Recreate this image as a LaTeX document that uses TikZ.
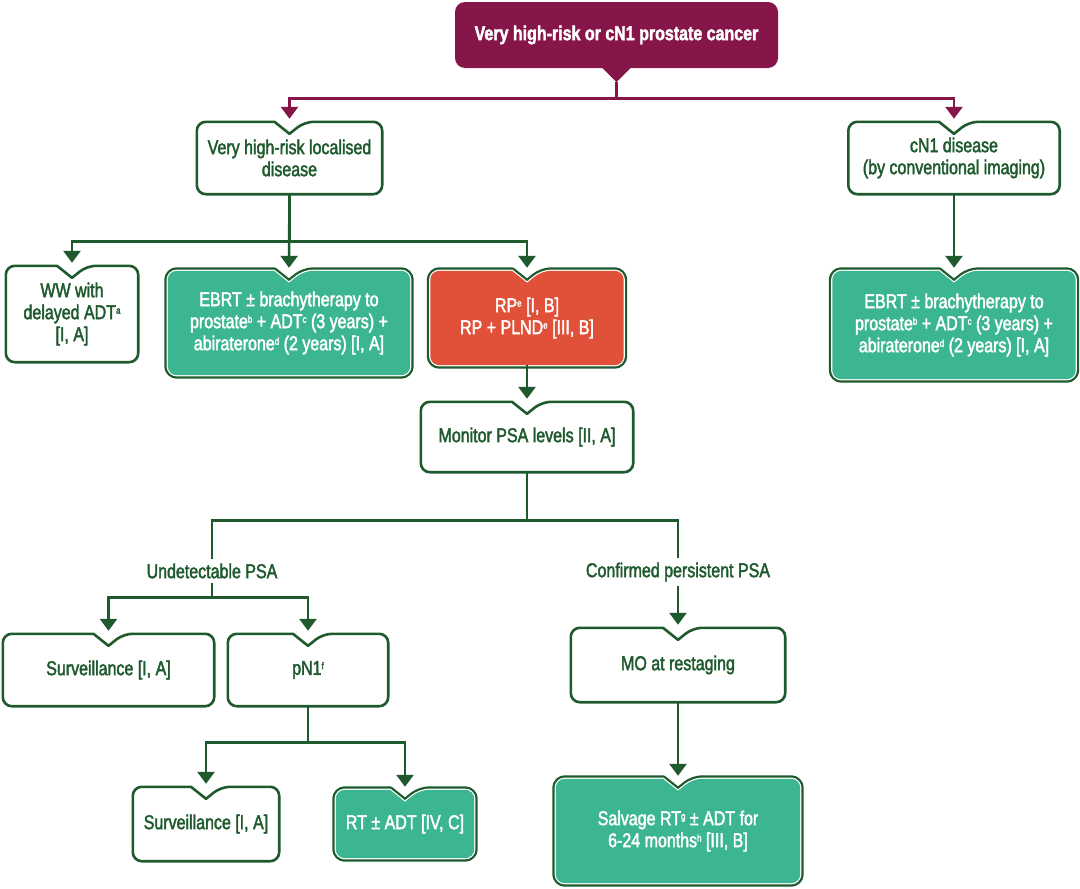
\documentclass[tikz,border=0pt]{standalone}
\usepackage{fontspec}
\setmainfont{Liberation Sans}[FakeStretch=0.8,FakeBold=2]
\usetikzlibrary{arrows.meta,backgrounds}
\definecolor{wine}{RGB}{134,22,74}
\definecolor{leaf}{RGB}{30,90,45}
\definecolor{mint}{RGB}{60,182,144}
\definecolor{brick}{RGB}{225,80,56}

% small footnote letters
\newcommand{\fnote}[1]{\raisebox{5.5pt}{\fontsize{10}{10}\selectfont #1}}

% outline of a box with a notch at the top
\newcommand{\boxpath}[2]{%
  \begin{pgfonlayer}{background}
    \path[#2, rounded corners=9pt, line join=round] ([xshift=-15pt]#1.north) -- (#1.north west) -- (#1.south west) -- (#1.south east) -- (#1.north east) -- ([xshift=15pt]#1.north) [sharp corners] -- ([yshift=-12pt]#1.north) -- cycle;
  \end{pgfonlayer}}
\newcommand{\plainbox}[1]{\boxpath{#1}{draw=leaf, line width=2.6pt, fill=white}}
\newcommand{\solidbox}[2]{%
  \boxpath{#1}{draw=leaf, line width=7pt}%
  \boxpath{#1}{draw=white, line width=2.4pt}%
  \boxpath{#1}{fill=#2}}

\begin{document}
\begin{tikzpicture}[x=1pt,y=-1pt,
    box/.style={inner sep=0pt, align=center, text=leaf, font=\fontsize{20}{22}\selectfont},
    fillbox/.style={box, text=white},
    garrow/.style={-{Triangle[width=17pt,length=12pt]}, draw=leaf, line width=2.6pt, shorten >=3pt},
    marrow/.style={garrow, draw=wine},
    gline/.style={draw=leaf, line width=2.6pt}]
  \path[use as bounding box] (0,0) rectangle (1080,889);

  % Start
  \node[box, text=white, fill=wine, rounded corners=10pt, minimum width=323pt, minimum height=66pt, font=\fontsize{20}{22}\selectfont\bfseries] (top) at (616.5,35) {Very high-risk or cN1 prostate cancer};
  \fill[wine] ([xshift=-15pt,yshift=1pt]top.south) -- ([xshift=15pt,yshift=1pt]top.south) -- ([yshift=-14pt]top.south) -- cycle;
  \coordinate (tab) at ([yshift=-14pt]top.south);

  % Second row
  \node[box, minimum width=185pt, minimum height=72pt] (vhr) at (289.5,158) {Very high-risk localised\\disease};
  \node[box, minimum width=211pt, minimum height=72pt] (cn1) at (954,158) {cN1 disease\\(by conventional imaging)};

  % Treatments
  \node[box, minimum width=132pt, minimum height=96pt] (ww) at (72,314) {WW with\\delayed ADT\fnote{a}\\{}[I, A]};
  \node[fillbox, minimum width=242pt, minimum height=104pt] (ebrtL) at (289,323) {EBRT ± brachytherapy to\\prostate\fnote{b} + ADT\fnote{c} (3 years) +\\abiraterone\fnote{d} (2 years) [I, A]};
  \node[fillbox, minimum width=193pt, minimum height=94pt] (rp) at (527,318) {RP\fnote{e} [I, B]\\RP + PLND\fnote{e} [III, B]};
  \node[fillbox, minimum width=243pt, minimum height=108pt] (ebrtR) at (954,325) {EBRT ± brachytherapy to\\prostate\fnote{b} + ADT\fnote{c} (3 years) +\\abiraterone\fnote{d} (2 years) [I, A]};

  % Follow-up
  \node[box, minimum width=212pt, minimum height=70pt] (mon) at (527,437) {Monitor PSA levels [II, A]};
  \node[box, inner sep=4pt] (undet) at (212,571) {Undetectable PSA};
  \node[box, inner sep=4pt] (persist) at (678,572) {Confirmed persistent PSA};

  % Lower boxes
  \node[box, minimum width=211pt, minimum height=72pt] (surv1) at (108.5,670) {Surveillance [I, A]};
  \node[box, minimum width=160pt, minimum height=72pt] (pn1) at (308,670) {pN1\fnote{f}};
  \node[box, minimum width=146pt, minimum height=74pt] (surv2) at (206,824) {Surveillance [I, A]};
  \node[fillbox, minimum width=138pt, minimum height=68pt] (rt) at (405,824) {RT ± ADT [IV, C]};
  \node[box, minimum width=214pt, minimum height=74pt] (mo) at (678,665) {MO at restaging};
  \node[fillbox, minimum width=244pt, minimum height=104pt] (salv) at (678,831) {Salvage RT\fnote{g} ± ADT for\\6-24 months\fnote{h} [III, B]};

  % Box outlines
  \plainbox{vhr}
  \plainbox{cn1}
  \plainbox{ww}
  \solidbox{ebrtL}{mint}
  \solidbox{rp}{brick}
  \solidbox{ebrtR}{mint}
  \plainbox{mon}
  \plainbox{surv1}
  \plainbox{pn1}
  \plainbox{surv2}
  \solidbox{rt}{mint}
  \plainbox{mo}
  \solidbox{salv}{mint}

  % Arrows
  \draw[marrow] (tab) -- ++(0,16) -| (vhr.north);
  \draw[marrow] (tab) -- ++(0,16) -| (cn1.north);
  \draw[garrow] (vhr.south) -- ++(0,47) -| (ww.north);
  \draw[garrow] (vhr.south) -- (ebrtL.north);
  \draw[garrow] (vhr.south) -- ++(0,47) -| (rp.north);
  \draw[garrow] (cn1.south) -- (ebrtR.north);
  \draw[garrow] (rp.south) -- (mon.north);
  \draw[gline] (mon.south) -- ++(0,48) -| (undet.north);
  \draw[gline] (mon.south) -- ++(0,48) -| (persist.north);
  \draw[garrow] (undet.south) -- ++(0,15) -| (surv1.north);
  \draw[garrow] (undet.south) -- ++(0,15) -| (pn1.north);
  \draw[garrow] (persist.south) -- (mo.north);
  \draw[garrow] (pn1.south) -- ++(0,36) -| (surv2.north);
  \draw[garrow] (pn1.south) -- ++(0,36) -| (rt.north);
  \draw[garrow] (mo.south) -- (salv.north);
\end{tikzpicture}
\end{document}
